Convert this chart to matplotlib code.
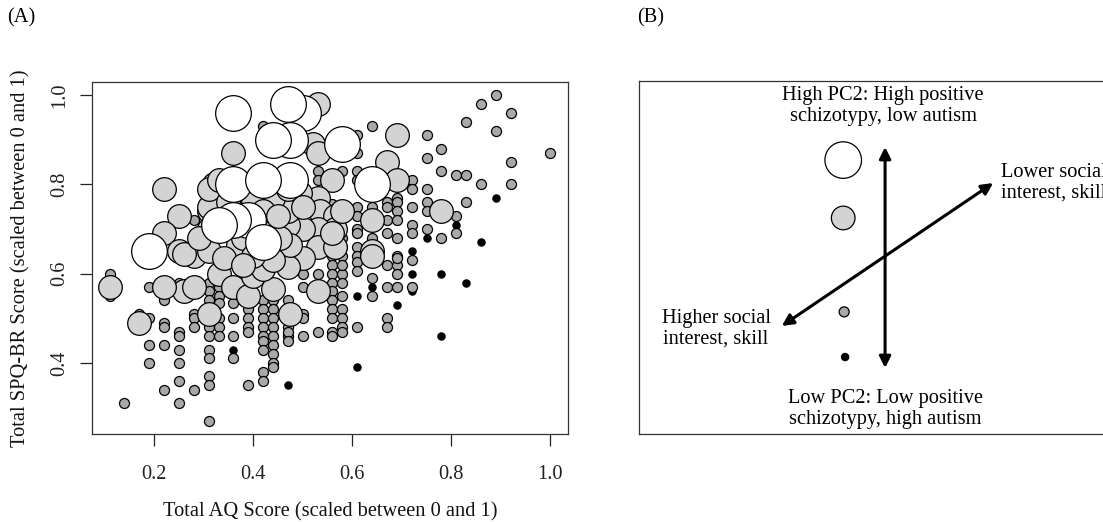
import matplotlib
matplotlib.use("Agg")
import matplotlib.pyplot as plt

plt.rcParams['font.family'] = ['Liberation Serif', 'DejaVu Serif']

# ---------------- data ----------------
# black: lowest PC2
black_x = [0.36, 0.47, 0.61, 0.61, 0.64, 0.69, 0.72, 0.72, 0.75, 0.78, 0.78,
           0.81, 0.83, 0.86, 0.89, 0.56, 0.72]
black_y = [0.43, 0.35, 0.55, 0.39, 0.57, 0.53, 0.60, 0.56, 0.68, 0.60, 0.46,
           0.71, 0.58, 0.67, 0.77, 0.52, 0.65]

# dark grey: low PC2 (x column -> list of y)
grey_cols = {
    0.11: [0.60, 0.55],
    0.14: [0.31],
    0.17: [0.51],
    0.19: [0.50, 0.44, 0.40, 0.57],
    0.22: [0.49, 0.48, 0.44, 0.34, 0.54],
    0.25: [0.47, 0.46, 0.43, 0.40, 0.36, 0.31, 0.58],
    0.28: [0.51, 0.50, 0.48, 0.34, 0.72],
    0.31: [0.58, 0.56, 0.54, 0.48, 0.46, 0.43, 0.41, 0.37, 0.35, 0.27],
    0.33: [0.57, 0.55, 0.535, 0.50, 0.48, 0.46],
    0.36: [0.535, 0.50, 0.46, 0.41],
    0.39: [0.52, 0.50, 0.48, 0.47, 0.35],
    0.42: [0.54, 0.52, 0.50, 0.48, 0.46, 0.45, 0.43, 0.38, 0.36, 0.93],
    0.44: [0.54, 0.52, 0.50, 0.48, 0.46, 0.44, 0.42, 0.40, 0.39],
    0.47: [0.54, 0.51, 0.48, 0.46, 0.47, 0.45],
    0.50: [0.60, 0.57, 0.51, 0.50, 0.46, 0.73],
    0.53: [0.60, 0.47, 0.83, 0.81],
    0.56: [0.755, 0.73, 0.71, 0.69, 0.66, 0.64, 0.62, 0.60, 0.58, 0.56,
           0.54, 0.52, 0.50, 0.47, 0.46],
    0.58: [0.83, 0.64, 0.60, 0.58, 0.55, 0.52, 0.50, 0.48, 0.47, 0.62, 0.66, 0.68],
    0.61: [0.91, 0.87, 0.83, 0.81, 0.75, 0.73, 0.70, 0.69, 0.66, 0.64,
           0.625, 0.605, 0.48],
    0.64: [0.93, 0.75, 0.68, 0.59, 0.55],
    0.67: [0.76, 0.75, 0.72, 0.69, 0.62, 0.57, 0.50, 0.48],
    0.69: [0.77, 0.76, 0.74, 0.72, 0.68, 0.64, 0.62, 0.60, 0.57, 0.635],
    0.72: [0.81, 0.79, 0.75, 0.71, 0.69, 0.63, 0.57],
    0.75: [0.91, 0.86, 0.79, 0.76, 0.74, 0.70],
    0.78: [0.88, 0.83, 0.68],
    0.81: [0.82, 0.73, 0.69],
    0.83: [0.94, 0.82, 0.76],
    0.86: [0.98, 0.80],
    0.89: [1.00, 0.92],
    0.92: [0.96, 0.85, 0.80],
    1.00: [0.87],
}

# light grey: high PC2
light_x = [0.11, 0.17, 0.19, 0.22, 0.25, 0.22, 0.25, 0.28, 0.31, 0.31, 0.32, 0.31,
           0.36, 0.53, 0.52, 0.53, 0.69, 0.67, 0.69, 0.56, 0.53, 0.495, 0.48,
           0.535, 0.565, 0.64, 0.78, 0.565, 0.53, 0.50, 0.47, 0.47, 0.64, 0.53,
           0.565, 0.475, 0.33, 0.36, 0.39, 0.40, 0.44, 0.42, 0.475, 0.31, 0.53,
           0.26, 0.28, 0.50, 0.47, 0.475, 0.455, 0.26, 0.29, 0.37, 0.34, 0.64,
           0.56, 0.58, 0.22, 0.44, 0.31, 0.31, 0.33, 0.47, 0.50,
           0.40, 0.42, 0.38, 0.44, 0.40, 0.35, 0.45, 0.38]
light_y = [0.57, 0.49, 0.64, 0.79, 0.73, 0.69, 0.65, 0.64, 0.65, 0.74, 0.80, 0.70,
           0.87, 0.98, 0.89, 0.87, 0.91, 0.85, 0.81, 0.81, 0.77, 0.78, 0.75,
           0.74, 0.73, 0.72, 0.74, 0.70, 0.70, 0.70, 0.71, 0.74, 0.65, 0.66,
           0.66, 0.65, 0.60, 0.57, 0.55, 0.595, 0.565, 0.61, 0.51, 0.51, 0.56,
           0.56, 0.57, 0.635, 0.615, 0.665, 0.68, 0.645, 0.68, 0.665, 0.635, 0.64,
           0.69, 0.74, 0.57, 0.77, 0.75, 0.79, 0.81, 0.79, 0.75,
           0.76, 0.74, 0.68, 0.63, 0.64, 0.76, 0.73, 0.62]

# white: highest PC2
white_x = [0.50, 0.47, 0.36, 0.475, 0.44, 0.58, 0.36, 0.475, 0.42, 0.64,
           0.39, 0.36, 0.33, 0.42, 0.19]
white_y = [0.96, 0.98, 0.96, 0.90, 0.90, 0.89, 0.80, 0.81, 0.81, 0.80,
           0.72, 0.72, 0.71, 0.67, 0.65]

x_ticks = [0.2, 0.4, 0.6, 0.8, 1.0]
y_ticks = [0.4, 0.6, 0.8, 1.0]
x_label = "Total AQ Score (scaled between 0 and 1)"
y_label = "Total SPQ-BR Score (scaled between 0 and 1)"

# panel B schematic (axes-fraction coordinates)
legend_pts_x = [0.429, 0.429, 0.431, 0.433]
legend_pts_y = [0.776, 0.612, 0.346, 0.218]
txt_top = "High PC2: High positive\nschizotypy, low autism"
txt_bottom = "Low PC2: Low positive\nschizotypy, high autism"
txt_left = "Higher social\ninterest, skill"
txt_right = "Lower social\ninterest, skill"

# ---------------- styles ----------------
S_WHITE, S_LIGHT, S_GREY, S_BLACK = 660, 290, 52, 27
C_WHITE, C_LIGHT, C_GREY, C_BLACK = '#ffffff', '#d3d3d3', '#a9a9a9', '#000000'
EW = 0.9
FS = 14.7
LS = 1.12

grey_x = [x for x, ys in grey_cols.items() for _ in ys]
grey_y = [y for ys in grey_cols.values() for y in ys]

fig = plt.figure(figsize=(11.03, 5.22), dpi=100)

# ---------------- panel A ----------------
axA = fig.add_axes([92/1103, 1-434/522, 476/1103, 352/522])
axA.scatter(black_x, black_y, s=S_BLACK, c=C_BLACK, edgecolors='black', linewidths=EW, zorder=2)
axA.scatter(grey_x, grey_y, s=S_GREY, c=C_GREY, edgecolors='black', linewidths=EW, zorder=3)
axA.scatter(light_x, light_y, s=S_LIGHT, c=C_LIGHT, edgecolors='black', linewidths=EW, zorder=4)
axA.scatter(white_x, white_y, s=S_WHITE, c=C_WHITE, edgecolors='black', linewidths=EW, zorder=5)

axA.set_xlim(0.0744, 1.0356)
axA.set_ylim(0.2408, 1.0292)
axA.set_xticks(x_ticks)
axA.set_xticklabels([f"{t:.1f}" for t in x_ticks])
axA.set_yticks(y_ticks)
axA.set_yticklabels([f"{t:.1f}" for t in y_ticks], rotation=90, va='center')
axA.tick_params(direction='out', length=8.5, width=0.9, labelsize=FS, colors='#222222')
axA.tick_params(axis='x', pad=14)
axA.tick_params(axis='y', pad=8)
for sp in axA.spines.values():
    sp.set_linewidth(0.9)
    sp.set_color('#333333')
axA.set_xlabel(x_label, fontsize=FS, labelpad=13, color='#111111')
axA.set_ylabel(y_label, fontsize=FS, labelpad=14, color='#111111')

fig.text(7/1103, 1-18/522, "(A)", fontsize=FS, va='center', ha='left')
fig.text(637/1103, 1-18/522, "(B)", fontsize=FS, va='center', ha='left')

# ---------------- panel B ----------------
axB = fig.add_axes([639/1103, 1-434/522, 476/1103, 353/522])
axB.set_xlim(0, 1)
axB.set_ylim(0, 1)
axB.set_xticks([])
axB.set_yticks([])
for sp in axB.spines.values():
    sp.set_linewidth(0.9)
    sp.set_color('#333333')

axB.scatter(legend_pts_x, legend_pts_y,
            s=[S_WHITE * 1.05, S_LIGHT, S_GREY, S_BLACK],
            c=[C_WHITE, C_LIGHT, C_GREY, C_BLACK],
            edgecolors='black', linewidths=EW, zorder=3)

arrow_kw = dict(arrowstyle='<|-|>', color='black', lw=2.2, mutation_scale=17,
                shrinkA=0, shrinkB=0)
axB.annotate('', xy=(0.517, 0.813), xytext=(0.517, 0.187), arrowprops=arrow_kw)
axB.annotate('', xy=(0.744, 0.711), xytext=(0.300, 0.306), arrowprops=arrow_kw)

axB.text(0.513, 0.929, txt_top, fontsize=FS, ha='center', va='center', linespacing=LS)
axB.text(0.517, 0.071, txt_bottom, fontsize=FS, ha='center', va='center', linespacing=LS)
axB.text(0.162, 0.297, txt_left, fontsize=FS, ha='center', va='center', linespacing=LS)
axB.text(0.761, 0.711, txt_right, fontsize=FS, ha='left', va='center', linespacing=LS,
         clip_on=False)

fig.savefig("out.png", dpi=100)
